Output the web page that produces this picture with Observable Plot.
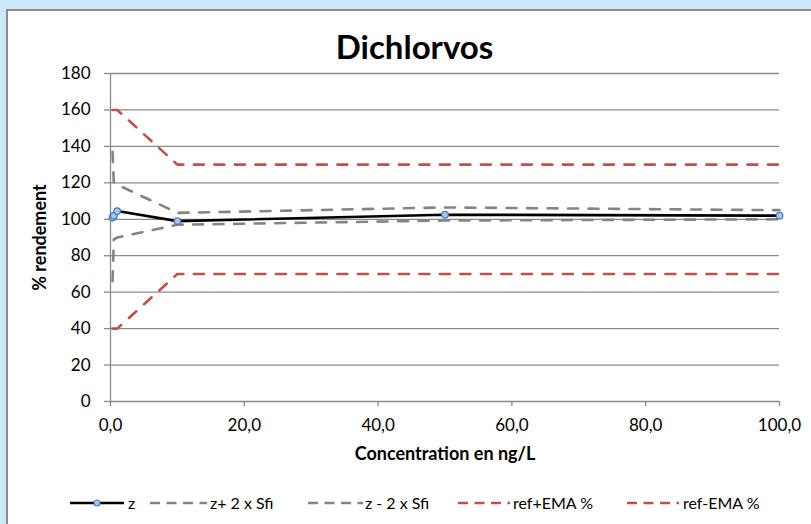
<!DOCTYPE html>
<html>
<head>
<meta charset="utf-8">
<script src="https://cdn.jsdelivr.net/npm/d3@7"></script>
<script src="https://cdn.jsdelivr.net/npm/@observablehq/plot@0.6"></script>
<style>
  html, body { margin: 0; padding: 0; }
  body { width: 811px; height: 524px; background: #cde8fb; position: relative; overflow: hidden;
         font-family: Lato, "Open Sans", sans-serif; }
  #panel { position: absolute; left: 6px; top: 9px; width: 820px; height: 530px; background: #fff;
           border-left: 2px solid #8c8c8c; border-top: 2px solid #8c8c8c; }
  #title { position: absolute; left: 0; top: 28px; width: 829px; text-align: center; font-weight: bold;
           font-size: 33px; color: #000; line-height: 36px; }
  #chart { position: absolute; left: 0; top: 0; }
  .leg { position: absolute; top: 493px; height: 20px; font-size: 16px; color: #000; line-height: 20px; white-space: nowrap; }
</style>
</head>
<body>
<div id="panel"></div>
<div id="chart"></div>
<div id="title">Dichlorvos</div>
<script>
// Concentrations (ng/L)
const concentrations = [0.3, 0.5, 1, 10, 50, 100];
// Series values (% rendement)
const zValues = [101, 102, 104.5, 99, 102.5, 102];
const zPlus2Sfi = [137, 120, 119, 103.5, 106.5, 105];
const zMinus2Sfi = [66, 89, 90, 97, 99.3, 100];
const refPlusEMA = [160, 160, 160, 130, 130, 130];
const refMinusEMA = [40, 40, 40, 70, 70, 70];
// Axis ticks
const xTicks = [0, 20, 40, 60, 80, 100];
const yTicks = [0, 20, 40, 60, 80, 100, 120, 140, 160, 180];
// Series names
const seriesNames = ["z", "z+ 2 x Sfi", "z - 2 x Sfi", "ref+EMA %", "ref-EMA %"];

const toRows = vals => concentrations.map((c, i) => ({x: c, y: vals[i]}));
const zRows = toRows(zValues);
const upRows = toRows(zPlus2Sfi);
const loRows = toRows(zMinus2Sfi);
const rpRows = toRows(refPlusEMA);
const rmRows = toRows(refMinusEMA);

const fmtX = d => d.toFixed(1).replace(".", ",");
const gridColor = "#8a8a8a";
const grayLine = "#848484";
const redLine = "#c0504d";
const dash = "10,10.5";
const font = 'Lato, "Open Sans", sans-serif';

const plot = Plot.plot({
  width: 811,
  height: 470,
  marginLeft: 110,
  marginRight: 32,
  marginTop: 73,
  marginBottom: 69,
  style: {fontFamily: font, fontSize: "17px", color: "#000", background: "transparent", overflow: "visible"},
  x: {domain: [0, 100]},
  y: {domain: [0, 180]},
  marks: [
    Plot.gridY(yTicks, {stroke: gridColor, strokeOpacity: 1, strokeWidth: 1.3}),
    Plot.ruleX([0], {y1: 0, y2: 180, stroke: gridColor, strokeWidth: 1.3}),
    Plot.axisY(yTicks, {tickSize: 6, tickPadding: 14, stroke: gridColor, strokeWidth: 1.3, fill: "#000", label: null}),
    Plot.axisX(xTicks, {tickSize: 5, tickPadding: 12, stroke: gridColor, strokeWidth: 1.3, fill: "#000", tickFormat: fmtX, label: null}),
    Plot.text(["% rendement"], {frameAnchor: "left", textAnchor: "middle", dx: -70, rotate: -90, fontWeight: "bold", fontSize: 18, fill: "#000"}),
    Plot.text(["Concentration en ng/L"], {frameAnchor: "bottom", dy: 58, fontWeight: "bold", fontSize: 18, fill: "#000"}),
    Plot.line(upRows, {x: "x", y: "y", stroke: grayLine, strokeWidth: 2.6, strokeDasharray: dash}),
    Plot.line(loRows, {x: "x", y: "y", stroke: grayLine, strokeWidth: 2.6, strokeDasharray: dash}),
    Plot.line(rpRows, {x: "x", y: "y", stroke: redLine, strokeWidth: 2.6, strokeDasharray: dash, strokeLinejoin: "round"}),
    Plot.line(rmRows, {x: "x", y: "y", stroke: redLine, strokeWidth: 2.6, strokeDasharray: dash, strokeLinejoin: "round"}),
    Plot.line(zRows, {x: "x", y: "y", stroke: "#000", strokeWidth: 2.6}),
    Plot.dot(zRows, {x: "x", y: "y", r: 3.3, fill: "#a9c6ea", stroke: "#4a7ebb", strokeWidth: 1.3})
  ]
});
document.getElementById("chart").appendChild(plot);

// Legend
const legendItems = [
  {name: seriesNames[0], color: "#000", dashed: false, marker: true, x0: 70, x1: 124, tx: 128},
  {name: seriesNames[1], color: grayLine, dashed: true, marker: false, x0: 150, x1: 207, tx: 210},
  {name: seriesNames[2], color: grayLine, dashed: true, marker: false, x0: 308, x1: 363, tx: 365},
  {name: seriesNames[3], color: redLine, dashed: true, marker: false, x0: 458, x1: 510, tx: 513},
  {name: seriesNames[4], color: redLine, dashed: true, marker: false, x0: 627, x1: 679, tx: 683}
];
for (const it of legendItems) {
  const w = it.x1 - it.x0;
  const ns = "http://www.w3.org/2000/svg";
  const svg = document.createElementNS(ns, "svg");
  svg.setAttribute("width", w);
  svg.setAttribute("height", 18);
  svg.style.position = "absolute";
  svg.style.left = it.x0 + "px";
  svg.style.top = "494px";
  const ln = document.createElementNS(ns, "line");
  ln.setAttribute("x1", 0); ln.setAttribute("x2", w);
  ln.setAttribute("y1", 9); ln.setAttribute("y2", 9);
  ln.setAttribute("stroke", it.color);
  ln.setAttribute("stroke-width", 2.6);
  if (it.dashed) ln.setAttribute("stroke-dasharray", "10,6.5");
  svg.appendChild(ln);
  if (it.marker) {
    const c = document.createElementNS(ns, "circle");
    c.setAttribute("cx", w / 2); c.setAttribute("cy", 9); c.setAttribute("r", 3);
    c.setAttribute("fill", "#a9c6ea"); c.setAttribute("stroke", "#4a7ebb"); c.setAttribute("stroke-width", 1.2);
    svg.appendChild(c);
  }
  document.body.appendChild(svg);
  const t = document.createElement("div");
  t.className = "leg";
  t.style.left = it.tx + "px";
  t.textContent = it.name;
  document.body.appendChild(t);
}
</script>
</body>
</html>
